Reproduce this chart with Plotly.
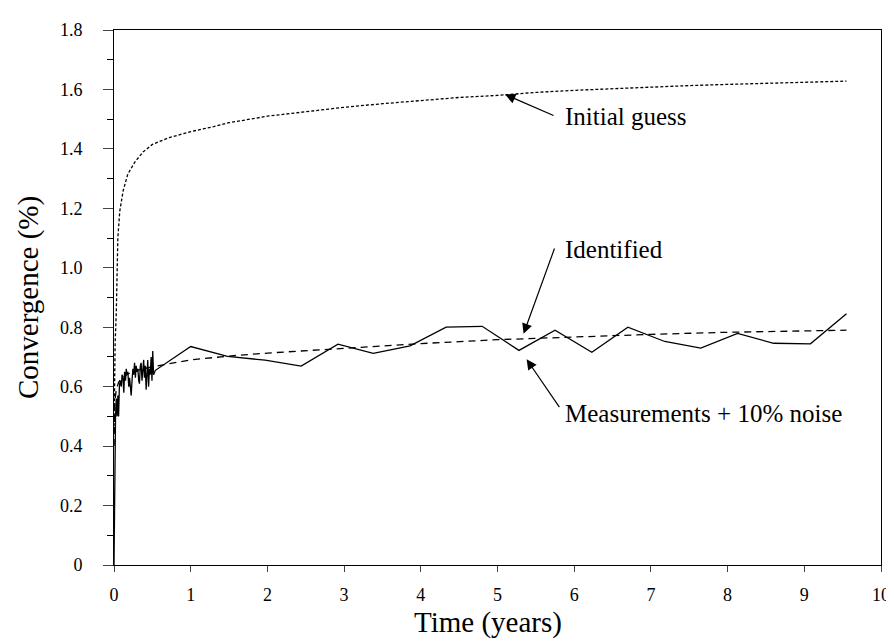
import plotly.graph_objects as go

# ----------------------------------------------------------------------------
# Data
# ----------------------------------------------------------------------------
measured_x = [0, 0.01, 0.02, 0.03, 0.04, 0.05, 0.06, 0.07, 0.08,
              0.095, 0.105, 0.117, 0.128, 0.138, 0.15, 0.16, 0.17, 0.181, 0.192,
              0.203, 0.214, 0.224, 0.235, 0.246, 0.257, 0.268, 0.279, 0.289, 0.3,
              0.311, 0.322, 0.332, 0.343, 0.354, 0.365, 0.376, 0.387, 0.397, 0.408,
              0.419, 0.43, 0.44, 0.451, 0.462, 0.473, 0.484, 0.495, 0.505, 0.516,
              0.527, 0.54,
              1.0, 1.48, 1.97, 2.44, 2.92, 3.38, 3.86, 4.33, 4.80, 5.28,
              5.75, 6.23, 6.70, 7.18, 7.65, 8.13, 8.60, 9.08, 9.55]
measured_y = [0, 0.44, 0.50, 0.56, 0.50, 0.57, 0.50, 0.60, 0.62,
              0.60, 0.64, 0.63, 0.58, 0.65, 0.62, 0.66, 0.64, 0.65, 0.60,
              0.63, 0.59, 0.57, 0.62, 0.66, 0.64, 0.68, 0.63, 0.67, 0.65,
              0.66, 0.62, 0.61, 0.67, 0.68, 0.62, 0.65, 0.69, 0.63, 0.67,
              0.59, 0.66, 0.69, 0.60, 0.66, 0.64, 0.70, 0.62, 0.72, 0.64,
              0.65, 0.655,
              0.735, 0.702, 0.689, 0.669, 0.743, 0.712, 0.737, 0.800, 0.803, 0.722,
              0.790, 0.716, 0.800, 0.752, 0.730, 0.779, 0.746, 0.744, 0.845]

identified_x = [0, 0.005, 0.01, 0.03, 0.06, 0.1, 0.2, 0.3, 0.5, 1.0, 1.5, 2.0,
                3.0, 4.0, 5.0, 6.0, 7.0, 8.0, 9.0, 9.55]
identified_y = [0.40, 0.50, 0.55, 0.59, 0.615, 0.63, 0.645, 0.655, 0.667, 0.69,
                0.703, 0.713, 0.73, 0.745, 0.758, 0.768, 0.776, 0.783, 0.788, 0.79]

guess_x = [0, 0.005, 0.015, 0.03, 0.04, 0.05, 0.075, 0.12, 0.18, 0.27, 0.38, 0.5,
           0.72, 1.0, 1.3, 1.5, 2.0, 2.5, 3.0, 3.5, 4.0, 4.5, 5.0, 5.5, 6.0, 6.5,
           7.0, 7.5, 8.0, 8.5, 9.0, 9.55]
guess_y = [0.45, 0.60, 0.75, 0.85, 1.00, 1.10, 1.19, 1.26, 1.315, 1.355, 1.39, 1.415,
           1.438, 1.458, 1.475, 1.488, 1.51, 1.525, 1.54, 1.552, 1.563, 1.573, 1.58,
           1.59, 1.597, 1.603, 1.608, 1.613, 1.617, 1.621, 1.625, 1.628]

y_ticks = [0, 0.2, 0.4, 0.6, 0.8, 1.0, 1.2, 1.4, 1.6, 1.8]
y_labels = ["0", "0.2", "0.4", "0.6", "0.8", "1.0", "1.2", "1.4", "1.6", "1.8"]
x_ticks = [0, 1, 2, 3, 4, 5, 6, 7, 8, 9, 10]

FONT = "Liberation Serif, Times New Roman, serif"

fig = go.Figure()
fig.add_trace(go.Scatter(x=guess_x, y=guess_y, mode="lines",
                         line=dict(color="black", width=1.3, dash="3px,2px")))
fig.add_trace(go.Scatter(x=identified_x, y=identified_y, mode="lines",
                         line=dict(color="black", width=1.3, dash="7px,5px")))
fig.add_trace(go.Scatter(x=measured_x, y=measured_y, mode="lines",
                         line=dict(color="black", width=1.3)))

# labels + arrows (tail -> tip)
notes = [
    ("Initial guess", 5.85, 1.51, 5.75, 1.51, 5.10, 1.583),
    ("Identified", 5.85, 1.06, 5.75, 1.07, 5.34, 0.778),
    ("Measurements + 10% noise", 5.85, 0.51, 5.82, 0.526, 5.38, 0.692),
]
for text, tx, ty, ax, ay, hx, hy in notes:
    fig.add_annotation(x=tx, y=ty, text=text, showarrow=False, xanchor="left",
                       yanchor="middle", font=dict(family=FONT, size=25, color="black"))
    fig.add_annotation(x=hx, y=hy, ax=ax, ay=ay, axref="x", ayref="y", text="",
                       showarrow=True, arrowhead=2, arrowsize=1.7, arrowwidth=1.2,
                       arrowcolor="black")

# x title sits slightly left of centre in the original
fig.add_annotation(x=0.487, y=-0.072, xref="paper", yref="paper", text="Time (years)",
                   showarrow=False, xanchor="center", yanchor="top",
                   font=dict(family=FONT, size=29, color="black"))

fig.update_layout(
    width=894, height=644,
    margin=dict(l=106, r=20, t=14, b=87),
    paper_bgcolor="white", plot_bgcolor="white",
    showlegend=False,
    font=dict(family=FONT, size=18, color="black"),
    xaxis=dict(range=[0, 10], tickvals=x_ticks, ticks="outside", ticklen=6,
               ticklabelstandoff=7, ticklabeloverflow="allow",
               showline=True, linecolor="black", linewidth=1, mirror=True,
               showgrid=False, zeroline=False),
    yaxis=dict(range=[0, 1.8], tickvals=y_ticks, ticktext=y_labels, ticks="outside",
               ticklen=10, ticklabelstandoff=17,
               showline=True, linecolor="black", linewidth=1, mirror=True,
               showgrid=False, zeroline=False,
               minor=dict(dtick=0.1, ticks="outside", ticklen=6, tickcolor="black"),
               title=dict(text="Convergence (%)", font=dict(size=29), standoff=12)),
)

fig.write_html("out.html")
